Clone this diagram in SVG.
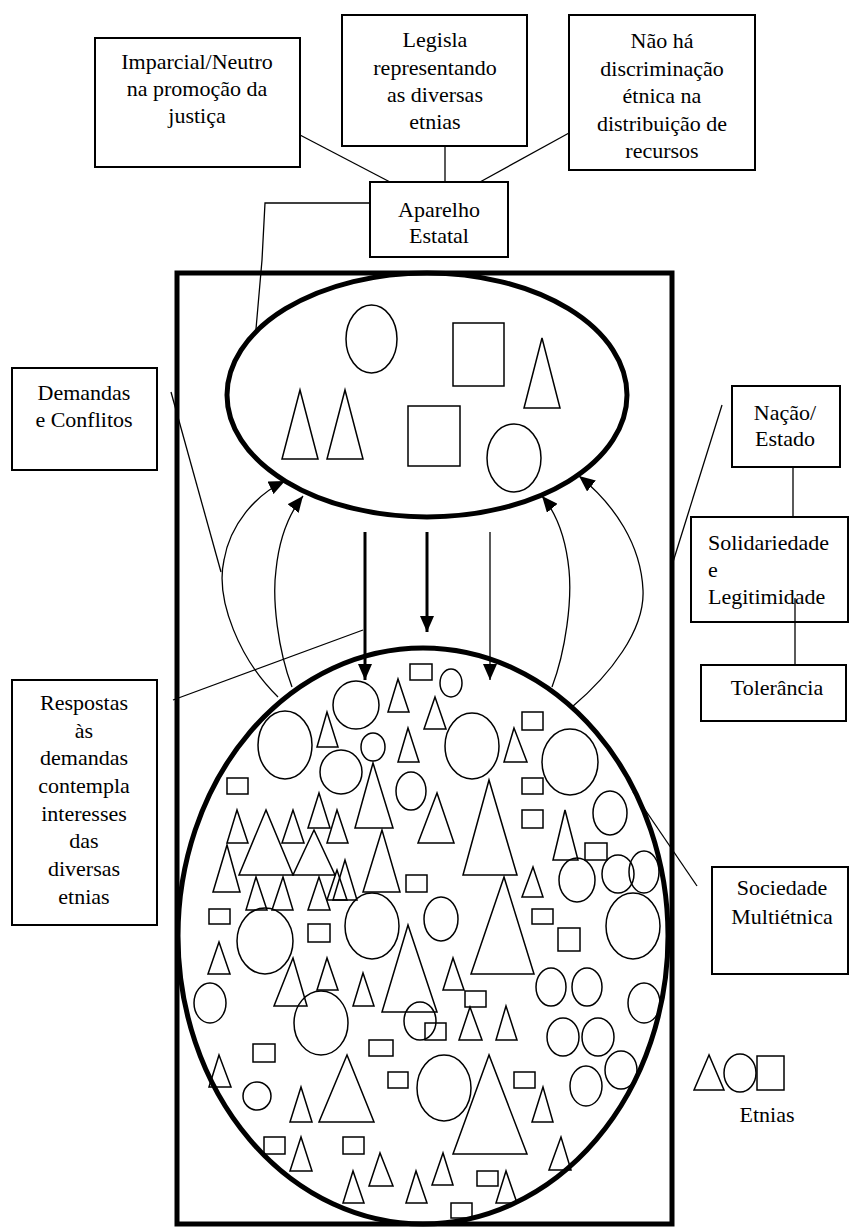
<svg xmlns="http://www.w3.org/2000/svg" width="850" height="1228" viewBox="0 0 850 1228">
<style>
text{font-family:"Liberation Serif","Times New Roman",serif;font-size:22px;fill:#000}
.c{text-anchor:middle}
.box{fill:#fff;stroke:#000;stroke-width:2}
.s{fill:none;stroke:#000;stroke-width:1.5}
.big{fill:none;stroke:#000;stroke-width:5}
.ln{fill:none;stroke:#000;stroke-width:1.3}
.th{fill:none;stroke:#000;stroke-width:3}
</style>
<defs>
<marker id="ah" markerUnits="userSpaceOnUse" markerWidth="16" markerHeight="14" viewBox="0 0 16 14" refX="16" refY="7" orient="auto">
<path d="M0,0 L16,7 L0,14 z" fill="#000"/>
</marker>
</defs>
<rect width="850" height="1228" fill="#fff"/>

<g id="frame">
<rect x="177" y="273" width="495" height="951" class="big"/>
</g>

<g id="aparelho-ellipse">
<ellipse cx="427" cy="395" rx="200" ry="122" class="big"/>
<ellipse cx="371.5" cy="339" rx="25.5" ry="34" class="s"/>
<rect x="453" y="323" width="51" height="63" class="s"/>
<polygon points="542,338 524,408 560,408" class="s"/>
<polygon points="300,390 282,459 318,459" class="s"/>
<polygon points="345,390 327,459 363,459" class="s"/>
<rect x="408" y="406" width="52" height="60" class="s"/>
<ellipse cx="514" cy="458" rx="27" ry="34" class="s"/>
</g>

<g id="sociedade-ellipse">
<ellipse cx="423" cy="936" rx="245" ry="288" class="big"/>
<g class="s">
<rect x="410" y="664" width="22" height="16"/>
<rect x="227" y="778" width="21" height="16"/>
<rect x="406" y="875" width="21" height="17"/>
<rect x="209" y="909" width="21" height="15"/>
<rect x="308" y="924" width="22" height="18"/>
<rect x="425" y="1023" width="21" height="17"/>
<rect x="465" y="991" width="21" height="16"/>
<rect x="532" y="909" width="21" height="15"/>
<rect x="558" y="928" width="22" height="23"/>
<rect x="585" y="843" width="22" height="17"/>
<rect x="522" y="712" width="21" height="18"/>
<rect x="522" y="778" width="21" height="16"/>
<rect x="522" y="810" width="21" height="18"/>
<rect x="514" y="1072" width="21" height="16"/>
<rect x="388" y="1072" width="20" height="16"/>
<rect x="477" y="1171" width="21" height="15"/>
<rect x="451" y="1203" width="21" height="15"/>
<rect x="253" y="1044" width="22" height="18"/>
<rect x="369" y="1040" width="24" height="16"/>
<rect x="264" y="1137" width="21" height="17"/>
<rect x="343" y="1137" width="21" height="17"/>
<ellipse cx="451" cy="683" rx="11" ry="14"/>
<ellipse cx="356" cy="705" rx="23" ry="24"/>
<ellipse cx="285" cy="745" rx="27" ry="34"/>
<ellipse cx="373" cy="747" rx="12" ry="14"/>
<ellipse cx="472" cy="746" rx="27" ry="33"/>
<ellipse cx="341" cy="772" rx="21" ry="22"/>
<ellipse cx="411" cy="791" rx="15" ry="19"/>
<ellipse cx="265" cy="941" rx="28" ry="33"/>
<ellipse cx="372" cy="926" rx="27" ry="33"/>
<ellipse cx="441" cy="919" rx="17" ry="22"/>
<ellipse cx="210" cy="1003" rx="16" ry="20"/>
<ellipse cx="321" cy="1023" rx="27" ry="32"/>
<ellipse cx="420" cy="1021" rx="16" ry="19"/>
<ellipse cx="577" cy="880" rx="18" ry="22"/>
<ellipse cx="618" cy="874" rx="16" ry="19"/>
<ellipse cx="644" cy="872" rx="15" ry="21"/>
<ellipse cx="610" cy="813" rx="17" ry="22"/>
<ellipse cx="570" cy="762" rx="28" ry="33"/>
<ellipse cx="633" cy="926" rx="27" ry="33"/>
<ellipse cx="551" cy="987" rx="15" ry="19"/>
<ellipse cx="587" cy="987" rx="15" ry="19"/>
<ellipse cx="644" cy="1003" rx="16" ry="20"/>
<ellipse cx="563" cy="1037" rx="16" ry="19"/>
<ellipse cx="598" cy="1037" rx="16" ry="19"/>
<ellipse cx="621" cy="1070" rx="16" ry="19"/>
<ellipse cx="586" cy="1086" rx="16" ry="20"/>
<ellipse cx="444" cy="1088" rx="27" ry="33"/>
<ellipse cx="257" cy="1096" rx="14" ry="14"/>
<polygon points="398,679 388,712 409,712"/>
<polygon points="435,697 424,729 446,729"/>
<polygon points="327,712 317,747 338,747"/>
<polygon points="408,728 398,762 419,762"/>
<polygon points="373,763 355,828 393,828"/>
<polygon points="437,793 418,843 454,843"/>
<polygon points="489,780 463,875 517,875"/>
<polygon points="237,810 227,843 248,843"/>
<polygon points="266,810 239,875 293,875"/>
<polygon points="293,810 282,843 304,843"/>
<polygon points="319,793 308,828 330,828"/>
<polygon points="337,810 327,843 348,843"/>
<polygon points="314,830 293,875 335,875"/>
<polygon points="227,845 213,892 240,892"/>
<polygon points="256,877 246,910 267,910"/>
<polygon points="283,877 272,910 293,910"/>
<polygon points="319,877 308,910 330,910"/>
<polygon points="345,860 333,900 357,900"/>
<polygon points="337,870 327,900 347,900"/>
<polygon points="382,830 363,892 400,892"/>
<polygon points="219,942 208,974 230,974"/>
<polygon points="293,958 274,1006 307,1006"/>
<polygon points="327,958 317,990 338,990"/>
<polygon points="363,973 353,1006 374,1006"/>
<polygon points="408,925 382,1012 437,1012"/>
<polygon points="453,958 443,990 464,990"/>
<polygon points="504,877 471,974 534,974"/>
<polygon points="470,1007 459,1040 482,1040"/>
<polygon points="506,1006 496,1040 517,1040"/>
<polygon points="533,867 522,897 543,897"/>
<polygon points="565,810 553,860 578,860"/>
<polygon points="514,728 504,762 527,762"/>
<polygon points="489,1055 453,1154 527,1154"/>
<polygon points="543,1087 532,1122 553,1122"/>
<polygon points="561,1137 549,1170 571,1170"/>
<polygon points="443,1153 432,1185 453,1185"/>
<polygon points="506,1171 496,1203 517,1203"/>
<polygon points="416,1171 406,1203 427,1203"/>
<polygon points="219,1055 209,1087 231,1087"/>
<polygon points="301,1087 290,1122 312,1122"/>
<polygon points="347,1055 319,1122 374,1122"/>
<polygon points="301,1137 290,1171 312,1171"/>
<polygon points="380,1153 369,1186 393,1186"/>
<polygon points="353,1171 343,1203 364,1203"/>
</g>
</g>

<g id="connectors">
<line x1="300" y1="135" x2="390" y2="182" class="ln"/>
<line x1="445" y1="146" x2="445" y2="182" class="ln" stroke-width="2"/>
<line x1="569" y1="133" x2="480" y2="182" class="ln"/>
<polyline points="370,203 265,203 262,260 256,329" class="ln"/>
<line x1="171" y1="392" x2="221" y2="572" class="ln"/>
<line x1="173" y1="700" x2="363" y2="630" class="ln"/>
<line x1="722" y1="405" x2="673" y2="562" class="ln"/>
<line x1="633" y1="792" x2="697" y2="886" class="ln"/>
<line x1="793" y1="467" x2="793" y2="517" class="ln" stroke-width="2"/>
<line x1="795" y1="598" x2="795" y2="665" class="ln" stroke-width="2"/>
<line x1="365" y1="532" x2="365" y2="680" class="th" marker-end="url(#ah)"/>
<line x1="427" y1="532" x2="427" y2="632" class="th" marker-end="url(#ah)"/>
<line x1="490" y1="532" x2="490" y2="680" class="ln" stroke-width="2" marker-end="url(#ah)"/>
<path d="M278,697 C240,660 215,600 224,560 C230,525 255,495 285,481" class="ln" marker-end="url(#ah)"/>
<path d="M292,687 C278,650 272,600 276,570 C279,540 288,515 303,496" class="ln" marker-end="url(#ah)"/>
<path d="M552,687 C566,650 572,600 569,570 C566,540 558,515 542,496" class="ln" marker-end="url(#ah)"/>
<path d="M572,707 C610,675 645,630 643,590 C641,545 615,505 579,476" class="ln" marker-end="url(#ah)"/>
</g>

<g id="imparcial">
<rect x="95" y="38" width="205" height="129" class="box"/>
<text x="197" y="69" class="c">Imparcial/Neutro</text>
<text x="197" y="96" class="c">na promoção da</text>
<text x="197" y="123" class="c">justiça</text>
</g>
<g id="legisla">
<rect x="342" y="15" width="185" height="131" class="box"/>
<text x="435" y="47" class="c">Legisla</text>
<text x="435" y="75" class="c">representando</text>
<text x="435" y="102" class="c">as diversas</text>
<text x="435" y="129" class="c">etnias</text>
</g>
<g id="nao-ha">
<rect x="569" y="15" width="186" height="155" class="box"/>
<text x="662" y="48" class="c">Não há</text>
<text x="662" y="76" class="c">discriminação</text>
<text x="662" y="103" class="c">étnica na</text>
<text x="662" y="131" class="c">distribuição de</text>
<text x="662" y="158" class="c">recursos</text>
</g>
<g id="aparelho">
<rect x="370" y="182" width="138" height="75" class="box"/>
<text x="439" y="217" class="c">Aparelho</text>
<text x="439" y="243" class="c">Estatal</text>
</g>
<g id="demandas">
<rect x="12" y="368" width="145" height="102" class="box"/>
<text x="84" y="400" class="c">Demandas</text>
<text x="84" y="427" class="c">e Conflitos</text>
</g>
<g id="respostas">
<rect x="12" y="680" width="145" height="245" class="box"/>
<text x="84" y="710" class="c">Respostas</text>
<text x="84" y="738" class="c">às</text>
<text x="84" y="765" class="c">demandas</text>
<text x="84" y="793" class="c">contempla</text>
<text x="84" y="821" class="c">interesses</text>
<text x="84" y="848" class="c">das</text>
<text x="84" y="876" class="c">diversas</text>
<text x="84" y="904" class="c">etnias</text>
</g>
<g id="nacao">
<rect x="732" y="386" width="108" height="81" class="box"/>
<text x="785" y="420" class="c">Nação/</text>
<text x="785" y="446" class="c">Estado</text>
</g>
<g id="solidariedade">
<rect x="691" y="517" width="157" height="105" class="box"/>
<text x="708" y="550">Solidariedade</text>
<text x="708" y="577">e</text>
<text x="708" y="604">Legitimidade</text>
</g>
<line x1="795" y1="598" x2="795" y2="622" class="ln" stroke-width="2"/>
<g id="tolerancia">
<rect x="701" y="665" width="145" height="56" class="box"/>
<text x="777" y="695" class="c">Tolerância</text>
</g>
<g id="sociedade">
<rect x="712" y="867" width="136" height="107" class="box"/>
<text x="782" y="895" class="c">Sociedade</text>
<text x="782" y="924" class="c">Multiétnica</text>
</g>
<g id="legenda">
<polygon points="709,1055 694,1090 724,1090" class="s"/>
<ellipse cx="740" cy="1073" rx="16" ry="19" class="s"/>
<rect x="757" y="1056" width="27" height="34" class="s"/>
<text x="767" y="1122" class="c">Etnias</text>
</g>
</svg>
